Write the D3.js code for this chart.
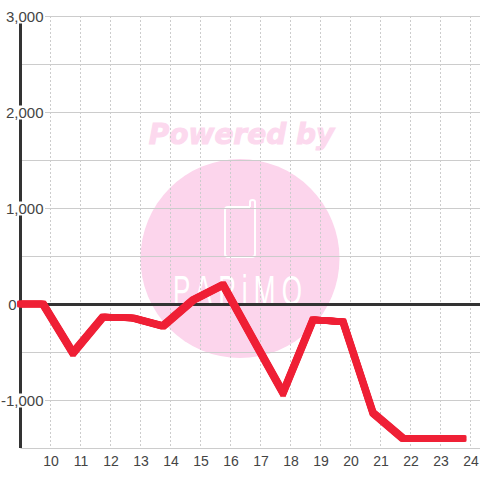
<!DOCTYPE html>
<html>
<head>
<meta charset="utf-8">
<title>chart</title>
<script src="https://d3js.org/d3.v7.min.js"></script>
<style>
body { margin: 0; background: #fff; }
text { font-family: "Liberation Sans", sans-serif; }
</style>
</head>
<body>
<div id="main"></div>
<script>
var hours  = [9, 9.75, 10.75, 11.75, 12.75, 13.75, 14.75, 15.75, 16.75, 17.75, 18.75, 19.75, 20.75, 21.75, 22.75, 23.75];
var values = [0, 0, -510, -135, -145, -230, 40, 200, -365, -925, -165, -185, -1135, -1400, -1400, -1400];
var xTicks = [10, 11, 12, 13, 14, 15, 16, 17, 18, 19, 20, 21, 22, 23, 24];
var yTicks = [3000, 2000, 1000, 0, -1000];
var yLabelText = ["3,000", "2,000", "1,000", "0", "-1,000"];
var yMinor = [2500, 1500, 500, -500];

var width = 480, height = 480;
var margin = {left: 20.5, top: 16, right: 0, bottom: 32};

var xScale = d3.scaleLinear().domain([9, 24.316]).range([margin.left, width]);
var yScale = d3.scaleLinear().domain([-1500, 3000]).range([height - margin.bottom, margin.top]);

var svg = d3.select("#main").append("svg")
	.attr("width", width)
	.attr("height", height)
	.style("display", "block");

// watermark sits under the grid
var mark = svg.append("g");
mark.append("circle").attr("cx", 240).attr("cy", 258.5).attr("r", 99.5).attr("fill", "#fcd5ec");
mark.append("text").attr("x", 241.5).attr("y", 143.5)
	.attr("text-anchor", "middle")
	.attr("font-size", 28).attr("font-weight", "bold").attr("font-style", "italic")
	.style("font-family", "DejaVu Sans")
	.attr("fill", "#fcd9ee").attr("stroke", "#fcd9ee").attr("stroke-width", 1)
	.text("Powered by");
mark.append("path")
	.attr("d", "M250,207H228q-3,0-3,3V254q0,3,3,3H252q3,0,3-3V202q0-2-2.5-2t-2.5,2V207")
	.attr("fill", "none").attr("stroke", "#fff").attr("stroke-width", 2);
mark.append("text")
	.attr("transform", "translate(173,305) scale(0.62,1)")
	.attr("font-size", 42).attr("letter-spacing", 10)
	.attr("fill", "#fff")
	.text("PAPiMO");

var grid = svg.append("g");
grid.selectAll("line.v").data(xTicks).enter().append("line")
	.attr("class", "v")
	.attr("x1", d => Math.floor(xScale(d)) + 0.5).attr("x2", d => Math.floor(xScale(d)) + 0.5)
	.attr("y1", yScale(3000)).attr("y2", yScale(-1500))
	.attr("stroke", "#ccc").attr("stroke-dasharray", "2,2");
grid.selectAll("line.h").data(yTicks.concat(yMinor).concat([-1500])).enter().append("line")
	.attr("class", "h")
	.attr("x1", margin.left).attr("x2", width)
	.attr("y1", d => yScale(d) + 0.5).attr("y2", d => yScale(d) + 0.5)
	.attr("stroke", "#ccc");

// axes
svg.append("line").attr("x1", margin.left).attr("x2", margin.left)
	.attr("y1", yScale(3000)).attr("y2", yScale(-1500))
	.attr("stroke", "#333").attr("stroke-width", 3);
svg.append("line").attr("x1", margin.left).attr("x2", width)
	.attr("y1", yScale(0) + 0.5).attr("y2", yScale(0) + 0.5)
	.attr("stroke", "#333").attr("stroke-width", 3);

// the original line has a square pen: flat runs are thinner than diagonals,
// so stamp the same path at every offset inside the square
var line = d3.line().x((d, i) => xScale(hours[i])).y(d => yScale(d));
var penOffsets = d3.cross(d3.range(-2.25, 2.5, 0.75), d3.range(-2.25, 2.5, 0.75));
svg.append("g").selectAll("path").data(penOffsets).enter().append("path")
	.attr("d", line(values))
	.attr("transform", d => "translate(" + d[0] + "," + d[1] + ")")
	.attr("fill", "none").attr("stroke", "#ef2036").attr("stroke-width", 2)
	.attr("stroke-linecap", "square");

svg.selectAll("text.x").data(xTicks).enter().append("text")
	.attr("class", "x")
	.attr("x", d => xScale(d) + 0.5).attr("y", 465.5)
	.attr("text-anchor", "middle").attr("font-size", 14).attr("fill", "#444")
	.text(d => d);

// labels knock out the axis and gridline behind them, except the 0
svg.selectAll("rect.y").data(yTicks.filter(d => d != 0)).enter().append("rect")
	.attr("class", "y")
	.attr("x", 0).attr("width", 45)
	.attr("y", d => yScale(d) - 6.5).attr("height", 14)
	.attr("fill", "#fff");
svg.selectAll("text.y").data(yTicks).enter().append("text")
	.attr("class", "y")
	.attr("x", d => d == 0 ? 16.5 : 43.5).attr("y", d => yScale(d) + 5.5)
	.attr("text-anchor", "end").attr("font-size", 15).attr("fill", "#444")
	.text((d, i) => yLabelText[i]);
</script>
</body>
</html>
